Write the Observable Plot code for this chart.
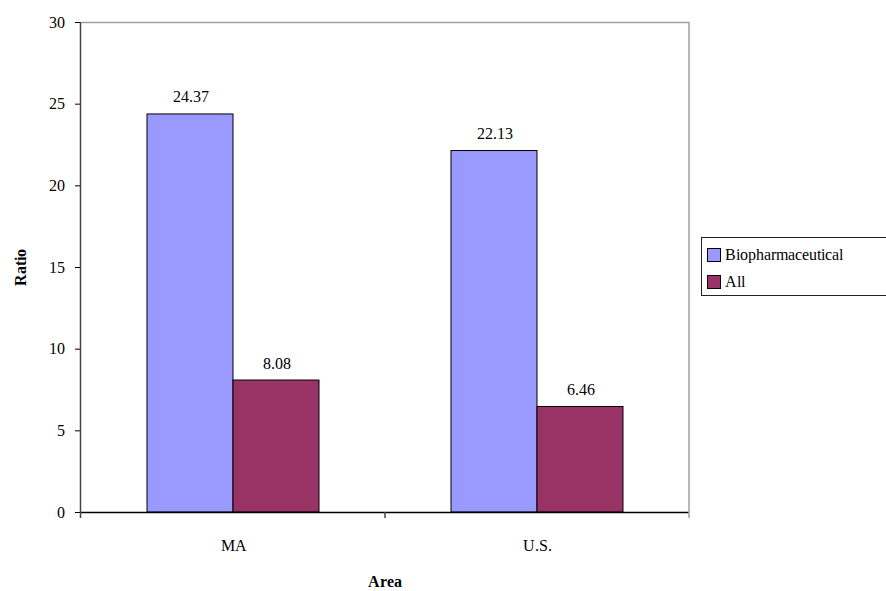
<!DOCTYPE html>
<html><head><meta charset="utf-8">
<script src="https://cdn.jsdelivr.net/npm/d3@7"></script>
<script src="https://cdn.jsdelivr.net/npm/@observablehq/plot@0.6"></script>
<style>
@font-face{font-family:"ChartSerif";src:local("Liberation Serif"),local("LiberationSerif");font-weight:400;}
@font-face{font-family:"ChartSerif";src:local("Liberation Serif Bold"),local("LiberationSerif-Bold");font-weight:700;}
html,body{margin:0;padding:0;background:#fff;overflow:hidden;}
#wrap{position:relative;width:886px;height:591px;color:#000;font-family:ChartSerif,'Liberation Serif',serif;}
#legend{position:absolute;left:701px;top:237px;width:200px;height:59px;border:1px solid #222;box-sizing:border-box;background:#fff;font-size:16px;font-family:ChartSerif,'Liberation Serif',serif;}
.item{position:absolute;left:5px;height:14px;display:flex;align-items:center;white-space:nowrap;}
.sw{width:12px;height:12px;border:1px solid #000;margin-right:4px;box-sizing:content-box;}
</style>
</head><body>
<div id="wrap"><div id="chart"></div><div id="legend"></div></div>
<script>
const areas = ["MA", "U.S."];
const seriesNames = ["Biopharmaceutical", "All"];
const biopharmaValues = [24.37, 22.13];
const allValues = [8.08, 6.46];
const seriesColors = ["#9999FF", "#993366"];
const yTicks = [0, 5, 10, 15, 20, 25, 30];
const yLabel = "Ratio";
const xLabel = "Area";

const data = areas.flatMap((a, i) => [
  {area: a, series: seriesNames[0], value: biopharmaValues[i]},
  {area: a, series: seriesNames[1], value: allValues[i]}
]);

const W = 886, H = 591, mL = 80, mR = 197, mT = 22, mB = 79;
const FONT = "ChartSerif, Liberation Serif, serif";

const plot = Plot.plot({
  width: W, height: H,
  marginLeft: mL, marginRight: mR, marginTop: mT, marginBottom: mB,
  style: {fontFamily: FONT, fontSize: "16px", color: "#000", background: "#fff", overflow: "visible"},
  fx: {domain: areas, padding: 0, label: null},
  x: {domain: seriesNames, paddingInner: 0, paddingOuter: 0.753, axis: null},
  y: {domain: [0, 30], label: null},
  color: {domain: seriesNames, range: seriesColors},
  marks: [
    Plot.ruleY([30], {stroke: "#a0a0a0", strokeWidth: 1.5}),
    Plot.barY(data, {fx: "area", x: "series", y: "value", fill: "series", stroke: "#000", strokeWidth: 1}),
    Plot.text(data, {fx: "area", x: "series", y: "value", text: d => d.value.toFixed(2), lineAnchor: "bottom", dy: -12, fontSize: 16, fontFamily: FONT, fill: "#000"}),
    Plot.ruleY([0], {stroke: "#000", strokeWidth: 1.5}),
    Plot.axisY({ticks: yTicks, tickSize: 6, tickPadding: 11, label: null, fontSize: 16, fontFamily: FONT}),
    Plot.axisFx({anchor: "bottom", tickSize: 0, tickPadding: 27, label: null, fontSize: 16, fontFamily: FONT})
  ]
});

document.getElementById("chart").appendChild(plot);

const fx = plot.scale("fx"), y = plot.scale("y");
const svg = d3.select(plot);
const x0 = fx.apply(areas[0]);
const x1 = fx.apply(areas[areas.length - 1]) + fx.bandwidth;
const yTop = y.apply(30), yBot = y.apply(0);
svg.append("line").attr("x1", x1).attr("x2", x1).attr("y1", yTop).attr("y2", yBot + 6)
  .attr("stroke", "#a0a0a0").attr("stroke-width", 1.5);
svg.append("line").attr("x1", x0 - 0.5).attr("x2", x0 - 0.5).attr("y1", yTop).attr("y2", yBot + 6)
  .attr("stroke", "#444").attr("stroke-width", 1.5);
areas.forEach((a, i) => {
  if (i === 0) return;
  const xb = fx.apply(a);
  svg.append("line").attr("x1", xb).attr("x2", xb).attr("y1", yBot).attr("y2", yBot + 6)
    .attr("stroke", "#444").attr("stroke-width", 1.5);
});
svg.append("text").attr("transform", `translate(20,${y.apply(15)}) rotate(-90)`)
  .attr("text-anchor", "middle").attr("dy", "0.35em").attr("font-family", FONT)
  .attr("font-weight", "bold").attr("font-size", 16).attr("fill", "#000").text(yLabel);
svg.append("text").attr("x", (x0 + x1) / 2).attr("y", yBot + 75)
  .attr("text-anchor", "middle").attr("font-family", FONT)
  .attr("font-weight", "bold").attr("font-size", 16).attr("fill", "#000").text(xLabel);

const legend = document.getElementById("legend");
seriesNames.forEach((s, i) => {
  const it = document.createElement("div");
  it.className = "item";
  it.style.top = (10 + i * 27) + "px";
  const sw = document.createElement("span");
  sw.className = "sw";
  sw.style.background = seriesColors[i];
  const t = document.createElement("span");
  t.textContent = s;
  it.appendChild(sw); it.appendChild(t);
  legend.appendChild(it);
});
</script>
</body></html>
